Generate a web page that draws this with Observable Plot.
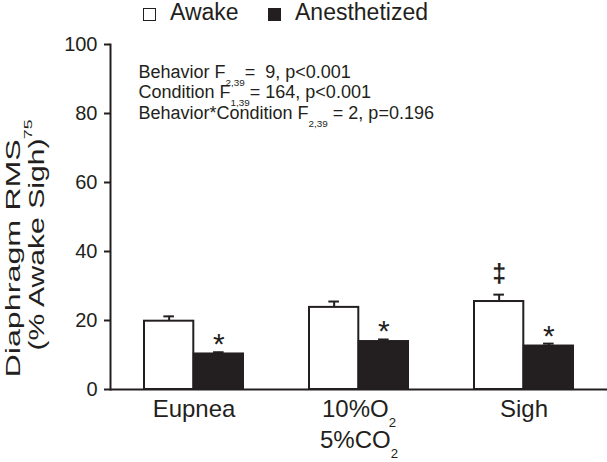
<!DOCTYPE html>
<html><head><meta charset="utf-8">
<script src="https://cdn.jsdelivr.net/npm/d3@7"></script>
<script src="https://cdn.jsdelivr.net/npm/@observablehq/plot@0.6"></script>
<style>
body{margin:0;background:#fff;font-family:"Liberation Sans",Arial,sans-serif;color:#231f20;}
#legend{position:relative;width:607px;height:30px;}
.sw{position:absolute;top:8px;width:13px;height:13px;box-sizing:border-box;border:1.6px solid #231f20;}
.lt{position:absolute;top:1px;font-size:23px;line-height:23px;white-space:nowrap;}
svg text{white-space:pre;}
</style></head><body>
<div id="legend"></div>
<div id="chart"></div>
<script>
// ---- data ----
const behaviors = ["Eupnea", "10%O2 5%CO2", "Sigh"];
const tickLine1 = ["Eupnea", "10%O_{2}", "Sigh"];
const tickLine2 = ["", "5%CO_{2}", ""];
const conditions = ["Awake", "Anesthetized"];
const awakeMean = [19.8, 23.8, 25.5];
const awakeSem  = [1.4, 1.7, 2.0];
const anesMean  = [10.3, 13.9, 12.6];
const anesSem   = [0.5, 0.6, 0.7];
const awakeMarks = ["", "", "\u2021"];
const anesMarks  = ["*", "*", "*"];
const yTicks = [0, 20, 40, 60, 80, 100];
const yLabel1 = "Diaphragm RMS_{75}";
const yLabel2 = "(% Awake Sigh)";
const stats = [
  "Behavior F_{2,39}=  9, p<0.001",
  "Condition F_{1,39}= 164, p<0.001",
  "Behavior*Condition F_{2,39} = 2, p=0.196"
];

// ---- layout ----
const ink = "#231f20";
const W = 607, H = 432, ML = 110, MR = 0, MT = 14, MB = 73;
const pi = 0.4, po = 0.2;
const step = (W - ML - MR) / (behaviors.length - pi + 2 * po);
const bw = step * (1 - pi);
const q = bw / 4;
const capHalf = 5.5;

const rows = behaviors.map((b, i) => ({
  behavior: b, line1: tickLine1[i], line2: tickLine2[i],
  awake: awakeMean[i], awakeSem: awakeSem[i],
  anes: anesMean[i], anesSem: anesSem[i],
  awakeMark: awakeMarks[i], anesMark: anesMarks[i]
}));

// legend
const fills = ["#fff", ink];
const legend = document.getElementById("legend");
const swX = [143, 268], txX = [170, 295];
conditions.forEach((c, i) => {
  const s = document.createElement("div");
  s.className = "sw"; s.style.left = swX[i] + "px"; s.style.background = fills[i];
  legend.appendChild(s);
  const t = document.createElement("div");
  t.className = "lt"; t.style.left = txX[i] + "px"; t.textContent = c;
  legend.appendChild(t);
});

const chart = Plot.plot({
  width: W, height: H,
  marginLeft: ML, marginRight: MR, marginTop: MT, marginBottom: MB,
  style: {fontFamily: "'Liberation Sans', Arial, sans-serif", color: ink, background: "#fff", overflow: "visible"},
  x: {domain: behaviors, paddingInner: pi, paddingOuter: po, axis: null},
  y: {domain: [0, 100]},
  marks: [
    Plot.barY(rows, {x: "behavior", y: "awake", fill: "#fff", stroke: ink, strokeWidth: 2, insetRight: bw / 2}),
    Plot.barY(rows, {x: "behavior", y: "anes", fill: ink, stroke: ink, strokeWidth: 2, insetLeft: bw / 2}),
    Plot.ruleX(rows, {x: "behavior", y1: "awake", y2: d => d.awake + d.awakeSem, dx: -q, stroke: ink, strokeWidth: 2}),
    Plot.tickY(rows, {x: "behavior", y: d => d.awake + d.awakeSem, insetLeft: q - capHalf, insetRight: 3 * q - capHalf, stroke: ink, strokeWidth: 2}),
    Plot.ruleX(rows, {x: "behavior", y1: "anes", y2: d => d.anes + d.anesSem, dx: q, stroke: ink, strokeWidth: 2}),
    Plot.tickY(rows, {x: "behavior", y: d => d.anes + d.anesSem, insetLeft: 3 * q - capHalf, insetRight: q - capHalf, stroke: ink, strokeWidth: 2}),
    Plot.text(rows, {x: "behavior", y: d => d.anes + d.anesSem, text: "anesMark", dx: q, dy: 2, lineAnchor: "bottom", fontSize: 30, fill: ink}),
    Plot.text(rows, {x: "behavior", y: d => d.awake + d.awakeSem, text: "awakeMark", dx: -q, dy: -13, lineAnchor: "bottom", fontSize: 25, fontWeight: "bold", fill: ink}),
    Plot.ruleY([0], {stroke: ink, strokeWidth: 2}),
    Plot.frame({anchor: "left", stroke: ink, strokeWidth: 2}),
    Plot.axisY(yTicks, {tickSize: 6, tickPadding: 7, fontSize: 20, strokeWidth: 2, stroke: ink, fill: ink, label: null}),
    Plot.text(rows, {x: "behavior", text: "line1", frameAnchor: "bottom", lineAnchor: "bottom", dy: 27, fontSize: 24, fill: ink}),
    Plot.text(rows, {x: "behavior", text: "line2", frameAnchor: "bottom", lineAnchor: "bottom", dy: 58, fontSize: 24, fill: ink}),
    Plot.text([yLabel1], {frameAnchor: "left", rotate: -90, textAnchor: "middle", lineAnchor: "bottom", dx: 19 - ML, dy: 31.5, fontSize: 21, fill: ink}),
    Plot.text([yLabel2], {frameAnchor: "left", rotate: -90, textAnchor: "middle", lineAnchor: "bottom", dx: 43 - ML, dy: 27.5, fontSize: 22, fill: ink}),
    Plot.text([stats[0]], {frameAnchor: "top-left", textAnchor: "start", lineAnchor: "bottom", dx: 28, dy: 33, fontSize: 18, fill: ink}),
    Plot.text([stats[1]], {frameAnchor: "top-left", textAnchor: "start", lineAnchor: "bottom", dx: 28, dy: 53, fontSize: 18, fill: ink}),
    Plot.text([stats[2]], {frameAnchor: "top-left", textAnchor: "start", lineAnchor: "bottom", dx: 28, dy: 74, fontSize: 18, fill: ink})
  ]
});
document.getElementById("chart").appendChild(chart);

// subscripts
const NS = "http://www.w3.org/2000/svg";
chart.querySelectorAll("text").forEach(t => {
  const leaves = t.querySelector("tspan") ? [...t.querySelectorAll("tspan")] : [t];
  leaves.forEach(el => {
    const s = el.textContent;
    if (!s.includes("_{")) return;
    const fs = parseFloat(getComputedStyle(el).fontSize);
    const isY = s.startsWith("Diaphragm");
    const shift = fs * (isY ? 0.6 : 0.45);
    const scale = 0.55;
    const parts = s.split(/_\{([^}]*)\}/);
    el.textContent = "";
    let shifted = false;
    parts.forEach((p, i) => {
      if (i % 2) {
        const ts = document.createElementNS(NS, "tspan");
        ts.setAttribute("font-size", fs * scale);
        ts.setAttribute("dy", shift);
        ts.textContent = p;
        el.appendChild(ts);
        shifted = true;
      } else if (p) {
        if (shifted) {
          const ts = document.createElementNS(NS, "tspan");
          ts.setAttribute("dy", -shift);
          ts.textContent = p;
          el.appendChild(ts);
          shifted = false;
        } else el.appendChild(document.createTextNode(p));
      }
    });
  });
});
chart.querySelectorAll("text").forEach(t => {
  const s = t.textContent;
  if (s.startsWith("Diaphragm")) { t.setAttribute("textLength", 258); t.setAttribute("lengthAdjust", "spacingAndGlyphs"); }
  if (s.startsWith("(% Awake")) { t.setAttribute("textLength", 212); t.setAttribute("lengthAdjust", "spacingAndGlyphs"); }
});
</script>
</body></html>
